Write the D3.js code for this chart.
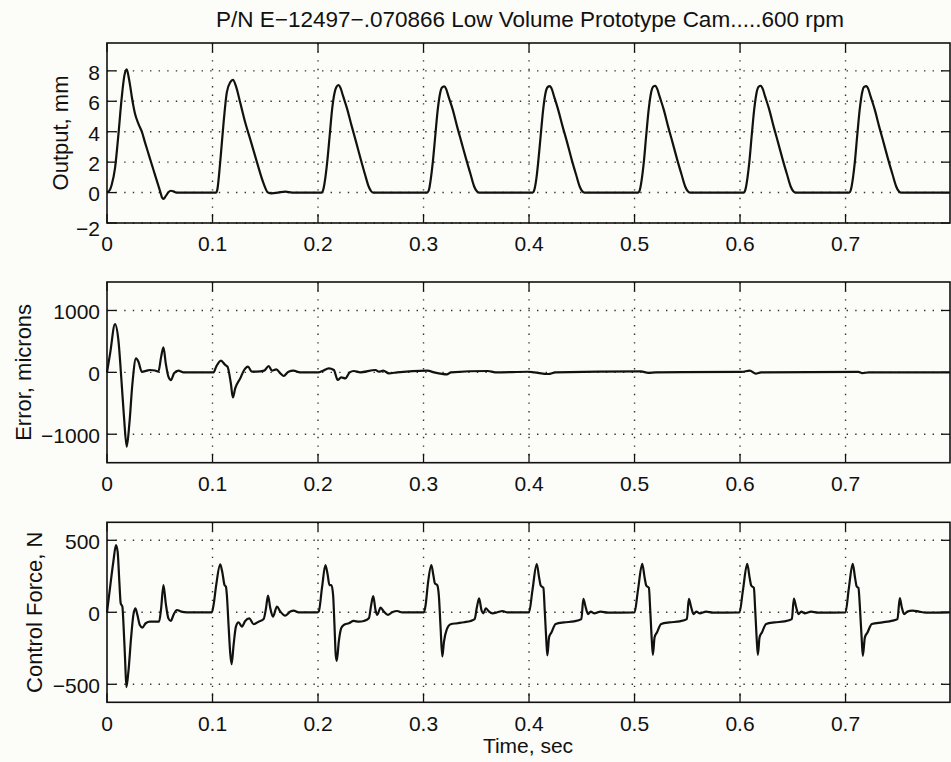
<!DOCTYPE html>
<html>
<head>
<meta charset="utf-8">
<script src="https://cdn.jsdelivr.net/npm/d3@7"></script>
<style>
  body { margin: 0; background: #fcfcf8; }
  svg { display: block; }
  text { font-family: "Liberation Sans", Arial, Helvetica, sans-serif; fill: #111; }
</style>
</head>
<body>
<div id="chart"></div>
<script>
// chart text
const titleText = "P/N E\u221212497\u2212.070866 Low Volume Prototype Cam.....600 rpm";
const xLabelText = "Time, sec";
const yLabels = ["Output, mm", "Error, microns", "Control Force, N"];

// tick values
const xTicks = [0, 0.1, 0.2, 0.3, 0.4, 0.5, 0.6, 0.7];
const outputTicks = [-2, 0, 2, 4, 6, 8];
const errorTicks = [-1000, 0, 1000];
const forceTicks = [-500, 0, 500];

// Output, mm  [time, value]
const outputPts = [
  [0,0],[0.0025,0.15],[0.0044,0.5],[0.0076,1.6],[0.0108,3.8],[0.0139,6.2],[0.0165,7.7],[0.0187,8.1],
  [0.0205,7.6],[0.022,7.0],[0.0235,6.3],[0.025,5.7],[0.0265,5.2],[0.028,4.85],[0.0305,4.4],[0.033,4.0],
  [0.036,3.3],[0.040,2.4],[0.044,1.5],[0.048,0.6],[0.0505,0.05],[0.052,-0.3],[0.0536,-0.41],[0.0555,-0.25],
  [0.058,0.0],[0.0605,0.12],[0.063,0.08],[0.066,0.0],[0.08,0],[0.1035,0],
  [0.1045,0.17],[0.1073,2.0],[0.1105,4.6],[0.1136,6.6],[0.1168,7.25],[0.1194,7.4],[0.1222,7.0],[0.1263,5.9],
  [0.131,4.6],[0.1358,3.5],[0.1421,2.0],[0.1484,0.6],[0.1526,0],[0.156,-0.05],[0.162,0],[0.169,0.06],[0.1754,0],[0.2035,0],
  [0.205,0.2],[0.207,1.0],[0.2087,2.0],[0.211,3.7],[0.2134,5.5],[0.2155,6.5],[0.2175,6.95],[0.2197,7.07],[0.2215,6.85],
  [0.2235,6.4],[0.2276,5.5],[0.2318,4.4],[0.236,3.35],[0.2403,2.24],[0.2445,1.2],[0.248,0.4],[0.2505,0.08],[0.2525,0],[0.26,0],[0.3035,0],
  [0.3052,0.2],[0.3071,1.0],[0.3088,2.0],[0.3111,3.7],[0.3134,5.4],[0.3155,6.45],[0.3175,6.9],[0.3196,6.98],[0.3215,6.8],
  [0.3235,6.35],[0.3277,5.45],[0.3318,4.35],[0.336,3.3],[0.3404,2.2],[0.3446,1.2],[0.348,0.4],[0.3506,0.08],[0.3527,0],[0.36,0],[0.4035,0],
  [0.4051,0.2],[0.4071,1.0],[0.4087,2.0],[0.411,3.7],[0.4134,5.45],[0.4155,6.5],[0.4176,6.93],[0.4197,7.0],[0.4216,6.8],
  [0.4236,6.35],[0.4276,5.45],[0.4318,4.35],[0.4361,3.3],[0.4403,2.2],[0.4445,1.2],[0.448,0.4],[0.4505,0.08],[0.4526,0],[0.46,0],[0.5035,0],
  [0.5051,0.2],[0.5071,1.0],[0.5088,2.0],[0.511,3.7],[0.5134,5.45],[0.5155,6.5],[0.5176,6.95],[0.5197,7.02],[0.5216,6.8],
  [0.5236,6.35],[0.5277,5.45],[0.5318,4.35],[0.536,3.3],[0.5403,2.2],[0.5445,1.2],[0.548,0.4],[0.5505,0.08],[0.5526,0],[0.56,0],[0.6035,0],
  [0.6051,0.2],[0.6071,1.0],[0.6088,2.0],[0.611,3.7],[0.6134,5.45],[0.6155,6.5],[0.6176,6.95],[0.6197,7.02],[0.6216,6.8],
  [0.6236,6.35],[0.6277,5.45],[0.6318,4.35],[0.636,3.3],[0.6403,2.2],[0.6445,1.2],[0.648,0.4],[0.6505,0.08],[0.6526,0],[0.66,0],[0.7035,0],
  [0.7051,0.2],[0.7071,1.0],[0.7088,2.0],[0.711,3.7],[0.7134,5.45],[0.7155,6.5],[0.7176,6.95],[0.7197,7.0],[0.7216,6.8],
  [0.7236,6.35],[0.7277,5.45],[0.7318,4.35],[0.736,3.3],[0.7403,2.2],[0.7445,1.2],[0.748,0.4],[0.7505,0.08],[0.7526,0],[0.76,0],[0.7985,0]
];

// Error, microns  [time, value]
const errorPts = [
  [0,0],[0.003,310],[0.0076,780],[0.0108,520],[0.0139,-180],[0.0161,-720],[0.0187,-1200],[0.0212,-830],
  [0.0241,-180],[0.0275,225],[0.0298,170],[0.033,10],[0.0377,27],[0.0408,38],[0.0455,30],[0.0487,11],
  [0.0513,250],[0.0535,405],[0.0557,145],[0.0582,-70],[0.0605,-125],[0.0636,-15],[0.0677,27],[0.0725,0],
  [0.101,0],[0.1035,92],[0.108,190],[0.112,120],[0.1142,92],[0.1174,-180],[0.1193,-405],[0.1215,-260],
  [0.1263,-97],[0.13,38],[0.1336,92],[0.1373,11],[0.142,11],[0.149,27],[0.1532,103],[0.1563,27],
  [0.1605,49],[0.1643,-16],[0.1675,-59],[0.172,11],[0.1767,27],[0.183,0],[0.2007,0],[0.2048,27],
  [0.2102,65],[0.215,38],[0.2187,-124],[0.2219,-81],[0.226,-97],[0.23,0],[0.2339,22],[0.24,0],
  [0.2545,38],[0.2577,11],[0.2618,27],[0.2672,-16],[0.275,0],[0.3038,27],[0.31,0],[0.3221,-32],
  [0.326,0],[0.3611,22],[0.368,0],[0.3992,10],[0.405,0],[0.4183,-27],[0.425,0],[0.5061,15],
  [0.513,-8],[0.52,0],[0.6015,8],[0.6092,27],[0.6149,-22],[0.62,0],[0.7122,8],[0.716,-12],[0.722,0],[0.7985,0]
];

// Control Force, N  [time, value]
const forcePts = [
  [0,0],[0.0028,166],[0.006,351],[0.0085,467],[0.0101,420],[0.0117,212],[0.013,62],[0.0146,39],
  [0.0155,-65],[0.0171,-319],[0.0184,-520],[0.0203,-411],[0.0228,-180],[0.025,-18],[0.0269,28],[0.0288,-18],
  [0.0311,-88],[0.0336,-106],[0.0367,-76],[0.0408,-65],[0.0494,-65],[0.0513,28],[0.0535,189],[0.0557,62],
  [0.0582,-42],[0.0605,-60],[0.063,-18],[0.0662,16],[0.0703,5],[0.0757,0],[0.0994,0],
  [0.101,51],[0.1035,189],[0.1073,333],[0.1095,270],[0.1114,189],[0.1127,178],[0.1136,120],[0.1152,-88],
  [0.1168,-284],[0.1181,-360],[0.12,-226],[0.1222,-99],[0.1247,-69],[0.1279,-99],[0.131,-60],[0.1348,-42],
  [0.139,-83],[0.1437,-65],[0.1485,-46],[0.1507,28],[0.1526,116],[0.1548,28],[0.1573,-30],[0.1611,39],
  [0.1643,5],[0.169,-23],[0.1738,5],[0.1769,12],[0.1817,0],[0.1995,0],
  [0.2007,5],[0.2039,178],[0.207,328],[0.2092,259],[0.2108,189],[0.2127,189],[0.2143,120],[0.2156,-88],
  [0.2168,-296],[0.2178,-337],[0.2197,-203],[0.2219,-111],[0.2244,-88],[0.2292,-76],[0.2339,-60],[0.2387,-65],
  [0.2435,-60],[0.2482,-42],[0.2504,51],[0.2523,113],[0.2545,16],[0.2561,-18],[0.2593,32],[0.2624,5],
  [0.2662,-18],[0.2703,0],[0.275,9],[0.2798,0],[0.3004,0],
  [0.302,51],[0.3042,201],[0.3074,328],[0.3093,259],[0.3108,201],[0.313,189],[0.3146,109],[0.3162,-111],
  [0.3178,-307],[0.3194,-203],[0.3219,-122],[0.3257,-83],[0.332,-76],[0.3384,-69],[0.3447,-60],[0.3485,-46],
  [0.3504,28],[0.3527,97],[0.3549,16],[0.3568,-7],[0.359,28],[0.3621,5],[0.3653,-7],[0.37,0],[0.3748,9],[0.3795,0],[0.4,0],
  [0.4032,151],[0.4073,335],[0.4095,244],[0.4111,186],[0.4136,170],[0.4149,12],[0.4164,-198],[0.4174,-300],
  [0.419,-174],[0.4212,-140],[0.4253,-81],[0.4332,-70],[0.4427,-63],[0.4496,-47],[0.4515,93],[0.4537,35],
  [0.4559,-12],[0.4585,5],[0.4616,-7],[0.4679,5],[0.4743,-2],[0.5,0],
  [0.5032,151],[0.5073,337],[0.5095,244],[0.5111,186],[0.5136,170],[0.5149,12],[0.5164,-198],[0.5174,-295],
  [0.519,-174],[0.5212,-140],[0.5253,-81],[0.5332,-70],[0.5427,-63],[0.5496,-47],[0.5515,93],[0.5537,35],
  [0.5559,-12],[0.5585,5],[0.5616,-7],[0.5679,5],[0.5743,-2],[0.5995,0],
  [0.6027,151],[0.6068,337],[0.609,244],[0.6106,186],[0.6131,170],[0.6144,12],[0.6159,-198],[0.6169,-295],
  [0.6185,-174],[0.6207,-140],[0.6248,-81],[0.6327,-70],[0.6422,-63],[0.6491,-47],[0.651,95],[0.6532,35],
  [0.6554,-12],[0.658,5],[0.6611,-7],[0.6674,5],[0.6738,-2],[0.7,0],
  [0.703,160],[0.7068,337],[0.709,240],[0.7106,179],[0.7122,170],[0.7138,12],[0.7154,-198],[0.7164,-302],
  [0.7183,-174],[0.7208,-140],[0.7249,-81],[0.735,-70],[0.7445,-58],[0.7492,-47],[0.7514,98],[0.7533,35],
  [0.7555,-12],[0.7587,5],[0.7634,12],[0.7697,5],[0.776,-2],[0.7985,0]
];

const W = 951, H = 762;
const svg = d3.select("#chart").append("svg").attr("width", W).attr("height", H);

// shared time axis
const x = d3.scaleLinear().domain([0, 0.799]).range([107, 950]);

const panels = [
  { pts: outputPts, ticks: outputTicks, dom: [-2, 9.83], top: 43, bottom: 223, label: yLabels[0], labelX: 60, xLabelY: 251 },
  { pts: errorPts, ticks: errorTicks, dom: [-1460, 1460], top: 282, bottom: 462.7, label: yLabels[1], labelX: 23, xLabelY: 491 },
  { pts: forcePts, ticks: forceTicks, dom: [-625, 625], top: 522.3, bottom: 702.3, label: yLabels[2], labelX: 34, xLabelY: 730.5 }
];

const fmt = v => String(v).replace("-", "\u2212");

panels.forEach(p => {
  const y = d3.scaleLinear().domain(p.dom).range([p.bottom, p.top]);
  const g = svg.append("g");
  const x0 = x.range()[0], x1 = x.range()[1];

  // dotted grid
  g.selectAll(".gx").data(xTicks.filter(t => t > 0)).enter().append("line")
    .attr("x1", d => x(d)).attr("x2", d => x(d)).attr("y1", p.top).attr("y2", p.bottom)
    .attr("stroke", "#333").attr("stroke-width", 1.4).attr("stroke-dasharray", "1.4,7.2");
  g.selectAll(".gy").data(p.ticks).enter().append("line")
    .attr("x1", x0).attr("x2", x1).attr("y1", d => y(d)).attr("y2", d => y(d))
    .attr("stroke", "#333").attr("stroke-width", 1.4).attr("stroke-dasharray", "1.4,7.2");

  // inward ticks on all sides
  const tl = 9;
  xTicks.forEach(t => {
    g.append("line").attr("x1", x(t)).attr("x2", x(t)).attr("y1", p.bottom).attr("y2", p.bottom - tl).attr("stroke", "#111").attr("stroke-width", 1.3);
    g.append("line").attr("x1", x(t)).attr("x2", x(t)).attr("y1", p.top).attr("y2", p.top + tl).attr("stroke", "#111").attr("stroke-width", 1.3);
  });
  p.ticks.forEach(t => {
    g.append("line").attr("x1", x0).attr("x2", x0 + tl).attr("y1", y(t)).attr("y2", y(t)).attr("stroke", "#111").attr("stroke-width", 1.3);
    g.append("line").attr("x1", x1).attr("x2", x1 - tl).attr("y1", y(t)).attr("y2", y(t)).attr("stroke", "#111").attr("stroke-width", 1.3);
  });

  // data line
  const line = d3.line().x(d => x(d[0])).y(d => y(d[1])).curve(d3.curveMonotoneX);
  g.append("path").datum(p.pts).attr("d", line)
    .attr("fill", "none").attr("stroke", "#111").attr("stroke-width", 2.2).attr("stroke-linejoin", "round");

  // box
  g.append("rect").attr("x", x0).attr("y", p.top).attr("width", x1 - x0).attr("height", p.bottom - p.top)
    .attr("fill", "none").attr("stroke", "#111").attr("stroke-width", 1.6);

  // tick labels
  g.selectAll(".xl").data(xTicks).enter().append("text")
    .attr("x", d => x(d)).attr("y", p.xLabelY).attr("text-anchor", "middle")
    .attr("font-size", 21).text(d => d);
  g.selectAll(".yl").data(p.ticks).enter().append("text")
    .attr("x", 100).attr("y", d => y(d) + 1.5 + (d === -2 ? 4 : 0)).attr("dy", "0.35em").attr("text-anchor", "end")
    .attr("font-size", 21).text(d => fmt(d));

  // y label
  g.append("text").attr("transform", `translate(${p.labelX},${(p.top + p.bottom) / 2}) rotate(-90)`)
    .attr("text-anchor", "middle").attr("dy", "0.35em").attr("font-size", 22).text(p.label);
});

svg.append("text").attr("x", 530).attr("y", 27).attr("text-anchor", "middle").attr("font-size", 22.5).text(titleText);
svg.append("text").attr("x", 528).attr("y", 753).attr("text-anchor", "middle").attr("font-size", 21).text(xLabelText);
</script>
</body>
</html>
